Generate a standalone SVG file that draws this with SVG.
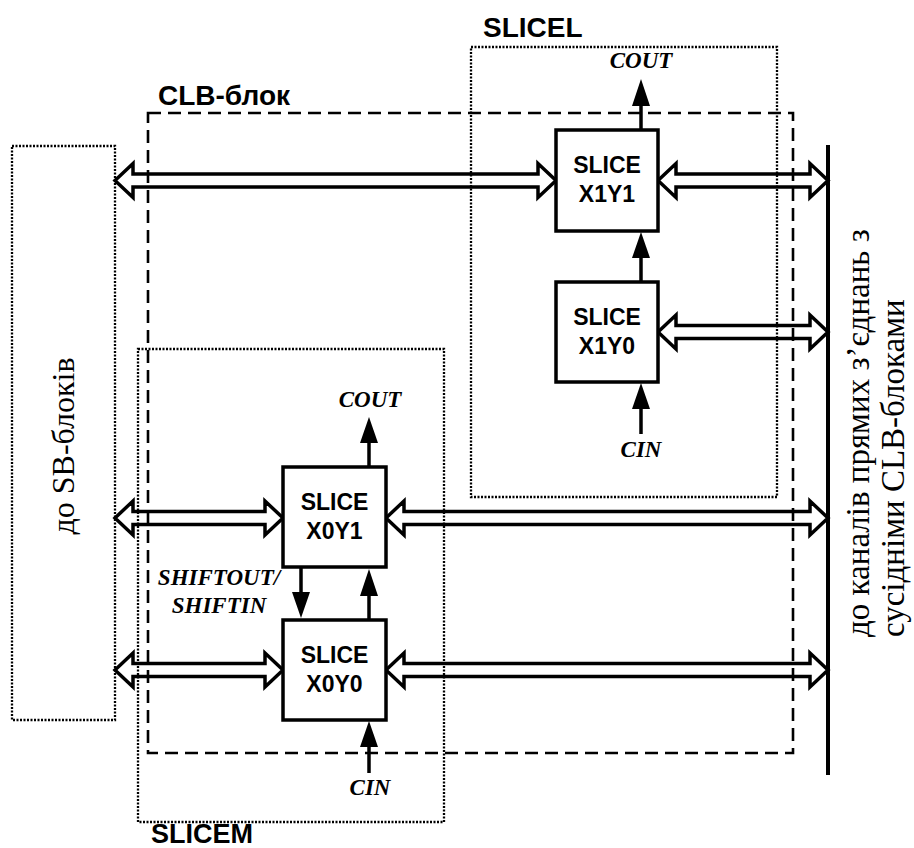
<svg xmlns="http://www.w3.org/2000/svg" width="914" height="848" viewBox="0 0 914 848">
<defs>
<style>
.bg{fill:#fff}
.slice{fill:#fff;stroke:#000;stroke-width:3.5}
.stxt{font-family:"Liberation Sans",Arial,sans-serif;font-weight:bold;font-size:23px;text-anchor:middle;fill:#000}
.lbl{font-family:"Liberation Sans",Arial,sans-serif;font-weight:bold;font-size:28px;fill:#000}
.sig{font-family:"Liberation Serif","Times New Roman",serif;font-weight:bold;font-style:italic;font-size:23px;text-anchor:middle;fill:#000}
.side{font-family:"Liberation Serif","Times New Roman",serif;font-size:32px;text-anchor:middle;fill:#000}
.note{font-family:"Liberation Serif","Times New Roman",serif;font-size:33px;text-anchor:start;fill:#000}
.dbl{fill:#fff;stroke:#000;stroke-width:3.5;stroke-linejoin:miter}
.wire{stroke:#000;stroke-width:3.5;fill:none}
.dotted{fill:none;stroke:#000;stroke-width:2.3;stroke-dasharray:2 1.5}
.dashed{fill:none;stroke:#000;stroke-width:2.6;stroke-dasharray:13 7}
.bus{stroke:#000;stroke-width:4}
</style>
</defs>
<rect class="bg" x="0" y="0" width="914" height="848"/>

<g id="connectors">
<polygon class="dbl" points="115,180.5 133,163.5 133,174 538,174 538,163.5 556,180.5 538,197.5 538,187 133,187 133,197.5"/>
<polygon class="dbl" points="658,180.5 676,163.5 676,174 810,174 810,163.5 828,180.5 810,197.5 810,187 676,187 676,197.5"/>
<polygon class="dbl" points="658,332 676,315 676,325.5 810,325.5 810,315 828,332 810,349 810,338.5 676,338.5 676,349"/>
<polygon class="dbl" points="115,518 133,501 133,511.5 265,511.5 265,501 283,518 265,535 265,524.5 133,524.5 133,535"/>
<polygon class="dbl" points="386,518 404,501 404,511.5 810,511.5 810,501 828,518 810,535 810,524.5 404,524.5 404,535"/>
<polygon class="dbl" points="115,670 133,653 133,663.5 265,663.5 265,653 283,670 265,687 265,676.5 133,676.5 133,687"/>
<polygon class="dbl" points="386,670 404,653 404,663.5 810,663.5 810,653 828,670 810,687 810,676.5 404,676.5 404,687"/>
<g fill="#000">
<line class="wire" x1="641" y1="130" x2="641" y2="100"/>
<polygon points="641,79 632,106 650,106"/>
<line class="wire" x1="641" y1="282" x2="641" y2="252"/>
<polygon points="641,232 632,258 650,258"/>
<line class="wire" x1="641" y1="434" x2="641" y2="402"/>
<polygon points="641,383 632,409 650,409"/>
<line class="wire" x1="369" y1="467" x2="369" y2="437"/>
<polygon points="369,417 360,443 378,443"/>
<line class="wire" x1="301" y1="567" x2="301" y2="598"/>
<polygon points="301,618 292,592 310,592"/>
<line class="wire" x1="369" y1="620" x2="369" y2="590"/>
<polygon points="369,569 360,596 378,596"/>
<line class="wire" x1="369" y1="773" x2="369" y2="742"/>
<polygon points="369,721 360,747 378,747"/>
</g>
<line class="bus" x1="828" y1="145" x2="828" y2="775"/>
</g>

<g id="sb-block">
<rect class="dotted" x="12" y="146" width="103" height="574"/>
<text class="side" transform="translate(74,446) rotate(-90)">до SB-блоків</text>
</g>

<g id="clb-block">
<rect class="dashed" x="148" y="113" width="645" height="640"/>
<text class="lbl" x="158" y="105">CLB-блок</text>
</g>

<g id="slicel">
<rect class="dotted" x="471" y="47" width="306" height="450"/>
<text class="lbl" x="483" y="37">SLICEL</text>
</g>

<g id="slicem">
<rect class="dotted" x="138" y="349" width="306" height="473"/>
<text class="lbl" x="151" y="843" style="font-size:27px">SLICEM</text>
</g>

<g id="slice-x1y1">
<rect class="slice" x="556" y="130" width="102" height="101"/>
<text class="stxt" x="607" y="173">SLICE</text>
<text class="stxt" x="607" y="202">X1Y1</text>
</g>
<g id="slice-x1y0">
<rect class="slice" x="556" y="282" width="102" height="100"/>
<text class="stxt" x="607" y="325">SLICE</text>
<text class="stxt" x="607" y="354">X1Y0</text>
</g>
<g id="slice-x0y1">
<rect class="slice" x="283" y="467" width="103" height="100"/>
<text class="stxt" x="334.5" y="510">SLICE</text>
<text class="stxt" x="334.5" y="539">X0Y1</text>
</g>
<g id="slice-x0y0">
<rect class="slice" x="283" y="620" width="103" height="100"/>
<text class="stxt" x="334.5" y="663">SLICE</text>
<text class="stxt" x="334.5" y="692">X0Y0</text>
</g>

<g id="labels">
<text class="sig" x="641" y="68">COUT</text>
<text class="sig" x="641" y="457">CIN</text>
<text class="sig" x="370" y="407">COUT</text>
<text class="sig" x="370" y="795">CIN</text>
<text class="sig" x="219" y="585">SHIFTOUT/</text>
<text class="sig" x="219" y="613">SHIFTIN</text>
</g>

<g id="right-note">
<text class="note" transform="translate(869,637) rotate(-90)">до каналів прямих з’єднань з</text>
<text class="note" transform="translate(904,637) rotate(-90)">сусідніми CLB-блоками</text>
</g>
</svg>
